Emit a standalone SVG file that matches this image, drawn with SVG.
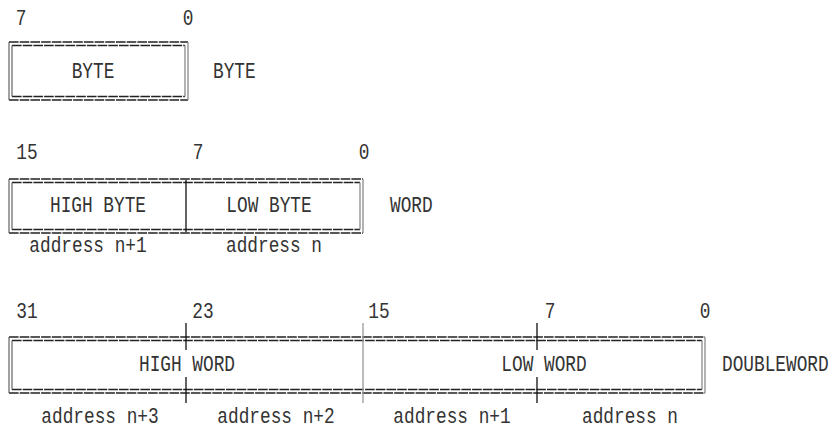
<svg xmlns="http://www.w3.org/2000/svg" width="832" height="430" viewBox="0 0 832 430">
<style>
.t{font-family:"Liberation Mono","Courier New",monospace;font-size:17.8px;fill:#333}
.m{text-anchor:middle}
.h{stroke:#222;stroke-width:1.3;stroke-dasharray:9.6 1.1;fill:none}
.v{stroke:#555;stroke-width:1.1;fill:none}
.vg{stroke:#8a8a8a;stroke-width:1.3;fill:none}
.k{stroke:#111;stroke-width:1.3;fill:none}
.g{stroke:#999;stroke-width:1.3;fill:none}
</style>
<rect width="832" height="430" fill="#fff"/>

<g id="byte">
  <path class="h" d="M9,42 H188 M12,45.5 H185 M12,96.5 H185 M9,100 H188"/>
  <path class="v" d="M9,42 V100 M12,45.5 V96.5"/>
  <path class="vg" d="M188,42 V100 M185,45.5 V96.5"/>
  <text class="t m" transform="translate(21,25) scale(1,1.25)">7</text>
  <text class="t m" transform="translate(188,25) scale(1,1.25)">0</text>
  <text class="t m" transform="translate(93,78) scale(1,1.25)">BYTE</text>
  <text class="t" transform="translate(213,78) scale(1,1.25)">BYTE</text>
</g>

<g id="word">
  <path class="h" d="M9,179 H363 M12,182.5 H360 M12,229.5 H360 M9,233 H363"/>
  <path class="v" d="M9,179 V233 M12,182.5 V229.5"/>
  <path class="vg" d="M363,179 V233 M360,182.5 V229.5"/>
  <path class="k" d="M186,180 V232"/>
  <text class="t m" transform="translate(27,159) scale(1,1.25)">15</text>
  <text class="t m" transform="translate(198,159) scale(1,1.25)">7</text>
  <text class="t m" transform="translate(364,159) scale(1,1.25)">0</text>
  <text class="t m" transform="translate(98,212) scale(1,1.25)">HIGH BYTE</text>
  <text class="t m" transform="translate(269,212) scale(1,1.25)">LOW BYTE</text>
  <text class="t" transform="translate(390,212) scale(1,1.25)">WORD</text>
  <text class="t m" transform="translate(88,252) scale(1,1.25)">address n+1</text>
  <text class="t m" transform="translate(274,252) scale(1,1.25)">address n</text>
</g>

<g id="doubleword">
  <path class="h" d="M9,337 H705 M12,340.5 H702 M12,389.5 H702 M9,393 H705"/>
  <path class="v" d="M9,337 V393 M12,340.5 V389.5"/>
  <path class="vg" d="M705,337 V393 M702,340.5 V389.5"/>
  <path class="k" d="M186,323 V350 M186,377 V403 M537,323 V350 M537,377 V403"/>
  <path class="g" d="M363,323 V403"/>
  <text class="t m" transform="translate(27,318) scale(1,1.25)">31</text>
  <text class="t m" transform="translate(203,318) scale(1,1.25)">23</text>
  <text class="t m" transform="translate(379,318) scale(1,1.25)">15</text>
  <text class="t m" transform="translate(550,318) scale(1,1.25)">7</text>
  <text class="t m" transform="translate(705,318) scale(1,1.25)">0</text>
  <text class="t m" transform="translate(187,371) scale(1,1.25)">HIGH WORD</text>
  <text class="t m" transform="translate(544,371) scale(1,1.25)">LOW WORD</text>
  <text class="t" transform="translate(722,371) scale(1,1.25)">DOUBLEWORD</text>
  <text class="t m" transform="translate(100,423) scale(1,1.25)">address n+3</text>
  <text class="t m" transform="translate(276,423) scale(1,1.25)">address n+2</text>
  <text class="t m" transform="translate(452,423) scale(1,1.25)">address n+1</text>
  <text class="t m" transform="translate(630,423) scale(1,1.25)">address n</text>
</g>

<g id="connectors"></g>
</svg>
